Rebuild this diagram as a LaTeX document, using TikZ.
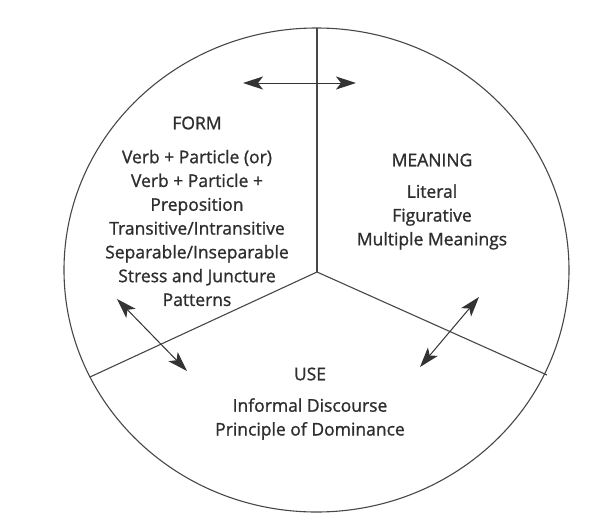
\documentclass[tikz,border=0pt]{standalone}
\usepackage{fontspec}
\setmainfont{Open Sans}[FakeBold=1.1]
\usetikzlibrary{arrows.meta}
\begin{document}
\begin{tikzpicture}[x=1pt,y=-1pt,
  ln/.style={draw=black!72, line width=1.1pt},
  dbl/.style={draw=black!80, line width=1pt,
    {Stealth[length=20pt,width=13pt,inset=5pt]}-{Stealth[length=20pt,width=13pt,inset=5pt]}},
  head/.style={font=\fontsize{17.5}{18}\selectfont, text=black!82, inner sep=0pt},
  body/.style={font=\fontsize{17.5}{23.8}\selectfont, text=black!82, align=center, inner sep=0pt},
]
\useasboundingbox (0,0) rectangle (611,523);
\fill[white] (0,0) rectangle (611,523);
\draw[ln] (316.5,270) ellipse [x radius=252.5, y radius=242];
\coordinate (c) at (317,272);
\coordinate (top) at (317,28);
\coordinate (ll) at (90,377);
\coordinate (lr) at (547,375);
\draw[ln] (c) -- (top);
\draw[ln] (c) -- (ll);
\draw[ln] (c) -- (lr);
% headers and bodies
\node[head] (form) at (197,123) {FORM};
\node[body] (formb) at (197,228) {Verb + Particle (or)\\Verb + Particle +\\Preposition\\Transitive/Intransitive\\Separable/Inseparable\\Stress and Juncture\\Patterns};
\node[head] (meaning) at (432,160) {MEANING};
\node[body] (meaningb) at (432,217) {Literal\\Figurative\\Multiple Meanings};
\node[head] (use) at (310,374) {USE};
\node[body] (useb) at (310,419) {Informal Discourse\\Principle of Dominance};
% arrows
\coordinate (t1) at (243,83);
\coordinate (t2) at (356,83);
\coordinate (l1) at (117,299);
\coordinate (l2) at (187,371);
\coordinate (r1) at (479,297);
\coordinate (r2) at (420,367);
\draw[dbl] (t1) -- (t2);
\draw[dbl] (l1) -- (l2);
\draw[dbl] (r1) -- (r2);
\end{tikzpicture}
\end{document}
